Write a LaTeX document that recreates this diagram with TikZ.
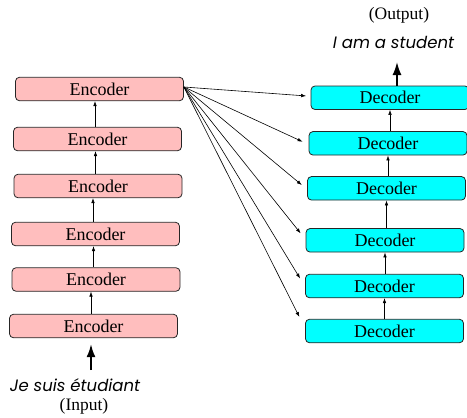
\documentclass[tikz,border=0pt]{standalone}
\usepackage{fontspec}
\setmainfont{Liberation Serif}
\newfontfamily\gothic{Poppins}
\usetikzlibrary{arrows.meta,calc}

\definecolor{encpink}{RGB}{255,190,190}
\definecolor{deccyan}{RGB}{0,255,255}
\tikzset{
  layer/.style={draw=black!85, line width=0.8pt, rounded corners=4pt,
    minimum height=23.5pt, inner sep=0pt,
    font=\fontsize{18}{18}\selectfont},
  encbox/.style={layer, fill=encpink, minimum width=168pt},
  decbox/.style={layer, fill=deccyan, minimum width=158pt},
  link/.style={-{Latex[length=5pt,width=3.6pt]}, line width=0.6pt},
  bigarrow/.style={-{Latex[length=13pt,width=9pt]}, line width=1.8pt},
  sentence/.style={font=\fontsize{16.5}{16.5}\selectfont\gothic\itshape, inner sep=0pt},
  tag/.style={font=\fontsize{17.5}{17.5}\selectfont, inner sep=0pt}
}

\begin{document}
\begin{tikzpicture}[x=1pt, y=-1pt]
\useasboundingbox (0,0) rectangle (467,418);

% encoder stack, bottom to top
\node[encbox] (e1) at (93.5,326) {Encoder};
\node[encbox] (e2) at (96,279.5) {Encoder};
\node[encbox] (e3) at (95.5,234) {Encoder};
\node[encbox] (e4) at (98,186) {Encoder};
\node[encbox] (e5) at (97.5,139) {Encoder};
\node[encbox] (e6) at (99.5,89) {Encoder};

% decoder stack, bottom to top
\node[decbox] (d1) at (384.5,331) {Decoder};
\node[decbox] (d2) at (384.5,286) {Decoder};
\node[decbox] (d3) at (385,240.3) {Decoder};
\node[decbox] (d4) at (386.5,188.3) {Decoder};
\node[decbox] (d5) at (388,143.3) {Decoder};
\node[decbox] (d6) at (390,97.75) {Decoder};

% arrows inside each stack
\foreach \lo/\hi in {e1/e2,e2/e3,e3/e4,e4/e5,e5/e6}
  \draw[link] ([xshift=-2.5pt]\lo.north) -- ([xshift=-2.5pt]\lo.north |- \hi.south);
\foreach \lo/\hi in {d1/d2,d2/d3,d3/d4,d4/d5,d5/d6}
  \draw[link] (\hi.south |- \lo.north) -- (\hi.south);

% the top encoder feeds every decoder
\coordinate (src) at ([yshift=2pt]e6.east);
\draw[link] (src) -- ([xshift=-4.5pt,yshift=1.8pt]d6.west);
\draw[link] (src) -- ([xshift=-6pt,yshift=1.6pt]d5.west);
\draw[link] (src) -- ([xshift=-5.3pt,yshift=3.3pt]d4.west);
\draw[link] (src) -- ([xshift=-5pt,yshift=7pt]d3.west);
\draw[link] (src) -- ([xshift=-5pt,yshift=7.5pt]d2.west);
\draw[link] (src) -- ([xshift=-5.7pt,yshift=14pt]d1.west);

% input side
\node[sentence, anchor=base] (inp) at (75,391) {Je suis étudiant};
\node[tag, anchor=base] (inlab) at (84,410) {(Input)};
\coordinate (inbase) at (91,370);
\draw[bigarrow] (inbase) -- ([yshift=-6pt]inbase |- e1.south);

% output side
\node[sentence, anchor=base] (outp) at (393.5,48) {I am a student};
\node[tag, anchor=base] (outlab) at (399,19) {(Output)};
\coordinate (outtip) at (397,62);
\draw[bigarrow] (outtip |- d6.north) -- (outtip);
\end{tikzpicture}
\end{document}
